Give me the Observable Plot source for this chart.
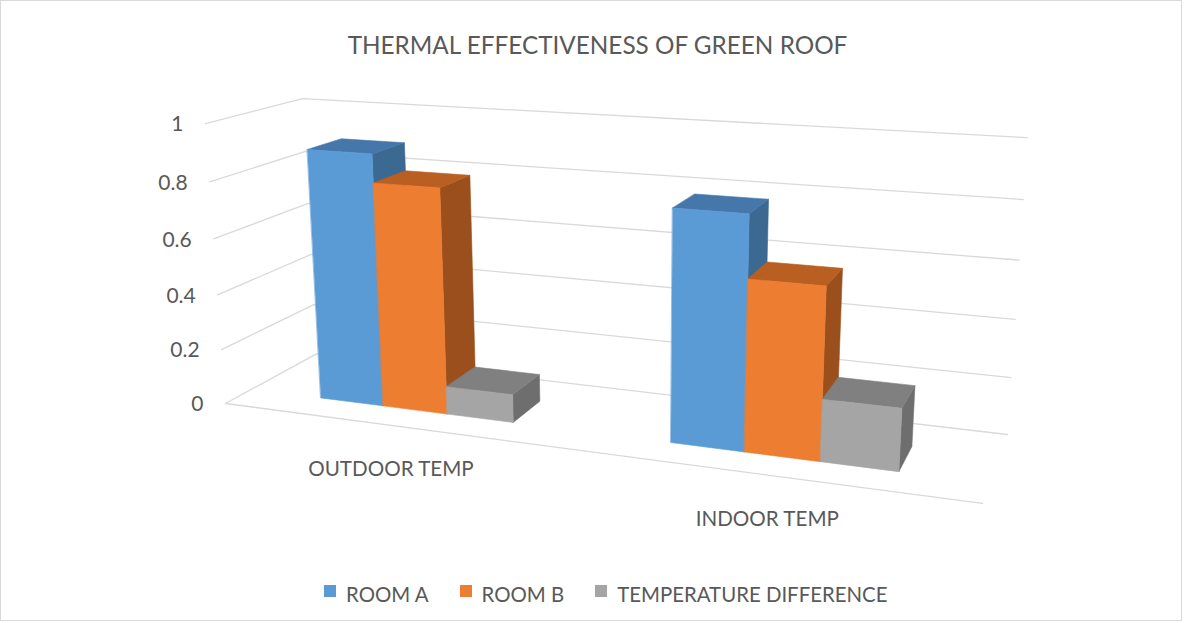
<!DOCTYPE html>
<html>
<head>
<meta charset="utf-8">
<script src="https://cdn.jsdelivr.net/npm/d3@7"></script>
<script src="https://cdn.jsdelivr.net/npm/@observablehq/plot@0.6"></script>
<style>
  html, body { margin: 0; padding: 0; background: #fff; }
  #chart { box-sizing: border-box; width: 1182px; height: 621px; border: 1px solid #d9d9d9;
           background: #fff; font-family: Lato, "Open Sans", sans-serif; color: #595959; overflow: hidden; }
  #title { box-sizing: border-box; height: 70px; padding-top: 29px; padding-left: 13px;
           font-size: 24.3px; line-height: 30px; text-align: center; white-space: nowrap; }
  #plot { height: 490px; }
  #legend { box-sizing: border-box; height: 58px; padding-top: 21px; padding-left: 323px;
            display: flex; align-items: flex-start; font-size: 20.4px; line-height: 25px; white-space: nowrap; }
  .item { display: flex; align-items: flex-start; margin-right: 31px; }
  .sw { width: 12px; height: 12px; margin-top: 3px; margin-right: 10px; }
</style>
</head>
<body>
<div id="chart">
  <div id="title"></div>
  <div id="plot"></div>
  <div id="legend"></div>
</div>
<script>
// ---------- data ----------
const chartTitle = "THERMAL EFFECTIVENESS OF GREEN ROOF";
const categories = ["OUTDOOR TEMP", "INDOOR TEMP"];
const seriesNames = ["ROOM A", "ROOM B", "TEMPERATURE DIFFERENCE"];
const roomA = [0.90, 0.79];
const roomB = [0.80, 0.58];
const tempDifference = [0.10, 0.21];
const yTicks = [0, 0.2, 0.4, 0.6, 0.8, 1];
const yTickLabels = ["0", "0.2", "0.4", "0.6", "0.8", "1"];

// ---------- styles ----------
const frontColors = ["#5B9BD5", "#ED7D31", "#A5A5A5"];
const topColors   = ["#4677AA", "#B95F22", "#808080"];
const sideColors  = ["#3C6991", "#9B4F1D", "#6E6E6E"];
const gridColor = "#d9d9d9";
const textColor = "#595959";

// 3-D view (perspective camera): world X = category units, Y = value, Z = depth
const camera = {
  origin: [225, 403, 1],
  ex: [299.58, 9.563, -0.08036],
  ey: [-29.67, -285.66, -0.04717],
  ez: [123.03, -13.88, 0.10134]
};
const barWidth = 0.19, clusterOffset = 0.218, zFront = 0.27, zBack = 0.645, floorDepth = 1;

function project(X, Y, Z) {
  const h = [0, 1, 2].map(k => camera.origin[k] + X * camera.ex[k] + Y * camera.ey[k] + Z * camera.ez[k]);
  return [h[0] / h[2], h[1] / h[2]];
}

const seriesValues = [roomA, roomB, tempDifference];
const nCat = categories.length;

// gridlines (left wall + back wall) and floor front edge
const grid = [];
yTicks.forEach((t, k) => {
  [[0, t, 0], [0, t, floorDepth], [nCat, t, floorDepth]].forEach(([X, Y, Z]) => {
    const [px, py] = project(X, Y, Z);
    grid.push({id: "g" + k, px, py});
  });
});
[[0, 0, 0], [nCat, 0, 0]].forEach(([X, Y, Z]) => {
  const [px, py] = project(X, Y, Z);
  grid.push({id: "floor", px, py});
});

// bar faces
const faces = [];
categories.forEach((cat, i) => {
  seriesValues.forEach((vals, s) => {
    const v = vals[i];
    const x0 = i + clusterOffset + s * barWidth, x1 = x0 + barWidth;
    const polys = [
      ["side", sideColors[s], [[x1, 0, zFront], [x1, 0, zBack], [x1, v, zBack], [x1, v, zFront]]],
      ["top", topColors[s], [[x0, v, zFront], [x1, v, zFront], [x1, v, zBack], [x0, v, zBack]]],
      ["front", frontColors[s], [[x0, 0, zFront], [x1, 0, zFront], [x1, v, zFront], [x0, v, zFront]]]
    ];
    polys.forEach(([name, color, pts]) => {
      pts.forEach(([X, Y, Z]) => {
        const [px, py] = project(X, Y, Z);
        faces.push({id: `${i}-${s}-${name}`, px, py, color, category: cat, series: seriesNames[s], value: v});
      });
    });
  });
});

// axis labels
const yLabels = yTicks.map((t, k) => {
  const [px, py] = project(0, t, 0);
  return {px, py, label: yTickLabels[k]};
});
const catLabels = categories.map((c, i) => {
  const [px, py] = project(i + 0.5, 0, 0);
  return {px, py, label: c};
});

// ---------- layout ----------
const plotW = 1180, plotH = 490, plotTop = 71, plotLeft = 1;

document.getElementById("title").textContent = chartTitle;

const chart = Plot.plot({
  width: plotW,
  height: plotH,
  margin: 0,
  x: {domain: [plotLeft, plotLeft + plotW], range: [0, plotW], axis: null},
  y: {domain: [plotTop, plotTop + plotH], range: [0, plotH], axis: null},
  color: {type: "identity"},
  style: {fontFamily: "Lato, 'Open Sans', sans-serif", color: textColor, background: "#fff", overflow: "visible"},
  marks: [
    Plot.line(grid, {x: "px", y: "py", z: "id", stroke: gridColor, strokeWidth: 1.3, curve: "linear"}),
    Plot.line(faces, {x: "px", y: "py", z: "id", fill: "color", stroke: "color", strokeWidth: 0.6, curve: "linear-closed"}),
    Plot.text(yLabels, {x: "px", y: "py", text: "label", dx: -22, dy: 1, textAnchor: "end", fill: textColor, fontSize: 21}),
    Plot.text(catLabels, {x: "px", y: "py", text: "label", dy: 44, textAnchor: "middle", fill: textColor, fontSize: 20.6})
  ]
});
document.getElementById("plot").appendChild(chart);

// legend
const legend = document.getElementById("legend");
seriesNames.forEach((name, s) => {
  const item = document.createElement("div");
  item.className = "item";
  const sw = document.createElement("span");
  sw.className = "sw";
  sw.style.background = frontColors[s];
  const label = document.createElement("span");
  label.textContent = name;
  item.appendChild(sw);
  item.appendChild(label);
  legend.appendChild(item);
});
</script>
</body>
</html>
